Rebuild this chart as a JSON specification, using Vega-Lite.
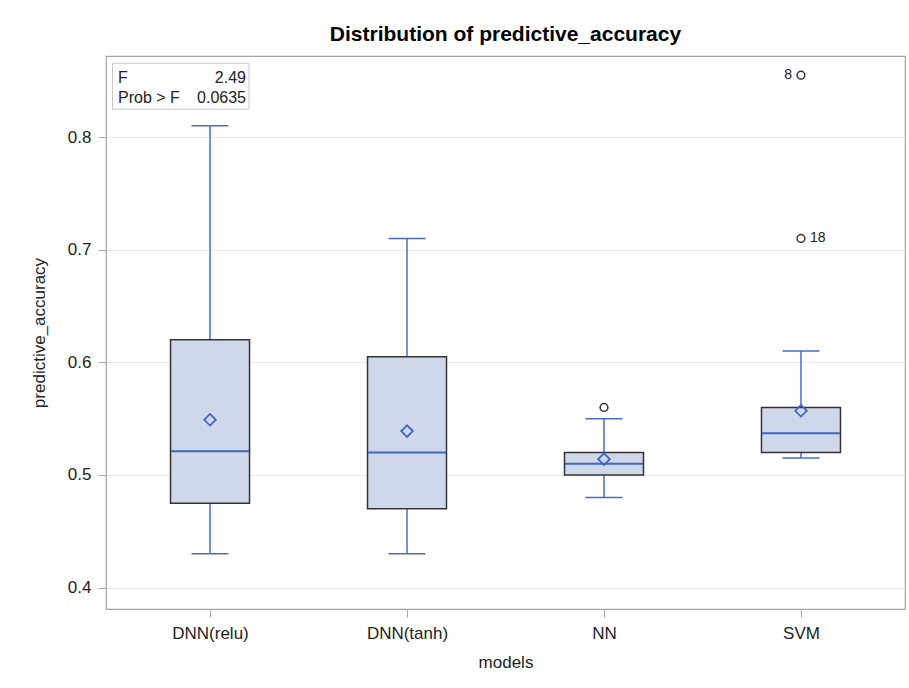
{
  "$schema": "https://vega.github.io/schema/vega-lite/v6.json",
  "width": 799,
  "height": 553,
  "autosize": {"type": "none"},
  "padding": {"left": 106, "top": 56, "right": 4, "bottom": 79},
  "background": "white",
  "title": {"text": "Distribution of predictive_accuracy", "font": "Liberation Sans", "fontSize": 21, "fontWeight": "bold", "color": "#000000", "anchor": "middle", "offset": 11},
  "config": {
    "view": {"stroke": "#a4a4ae", "strokeWidth": 1.2},
    "axis": {"labelFont": "Liberation Sans", "titleFont": "Liberation Sans", "labelFontSize": 17, "titleFontSize": 17, "labelColor": "#222222", "titleColor": "#222222", "titleFontWeight": "normal", "tickColor": "#a4a4ae", "domain": false}
  },
  "datasets": {
    "stats": [
      {"model": "DNN(relu)", "low": 0.43, "q1": 0.475, "median": 0.521, "q3": 0.62, "high": 0.81, "mean": 0.549},
      {"model": "DNN(tanh)", "low": 0.43, "q1": 0.47, "median": 0.52, "q3": 0.605, "high": 0.71, "mean": 0.539},
      {"model": "NN", "low": 0.48, "q1": 0.50, "median": 0.51, "q3": 0.52, "high": 0.55, "mean": 0.514},
      {"model": "SVM", "low": 0.515, "q1": 0.52, "median": 0.537, "q3": 0.56, "high": 0.61, "mean": 0.557}
    ],
    "outliers": [
      {"model": "NN", "value": 0.56, "label": ""},
      {"model": "SVM", "value": 0.71, "label": "18"},
      {"model": "SVM", "value": 0.855, "label": "8"}
    ]
  },
  "encoding": {
    "x": {"field": "model", "type": "nominal", "title": "models",
      "scale": {"type": "point", "domain": ["DNN(relu)", "DNN(tanh)", "NN", "SVM"], "padding": 0.528},
      "axis": {"labelAngle": 0, "tickSize": 8, "labelPadding": 8, "titlePadding": 13, "grid": false}}
  },
  "layer": [
    {
      "data": {"name": "stats"},
      "mark": {"type": "rule", "color": "#4a6cc8", "strokeWidth": 1.5},
      "encoding": {
        "y": {"field": "low", "type": "quantitative", "title": "predictive_accuracy",
          "scale": {"domain": [0.381, 0.872], "nice": false, "zero": false},
          "axis": {"values": [0.4, 0.5, 0.6, 0.7, 0.8], "format": ".1f", "tickSize": 8, "labelPadding": 7, "titlePadding": 19, "grid": true, "gridColor": "#ece8ec", "gridWidth": 1}},
        "y2": {"field": "high"}
      }
    },
    {
      "data": {"name": "stats"},
      "mark": {"type": "tick", "color": "#4a6cc8", "size": 37, "thickness": 1.5, "opacity": 1},
      "encoding": {"y": {"field": "low", "type": "quantitative"}}
    },
    {
      "data": {"name": "stats"},
      "mark": {"type": "tick", "color": "#4a6cc8", "size": 37, "thickness": 1.5, "opacity": 1},
      "encoding": {"y": {"field": "high", "type": "quantitative"}}
    },
    {
      "data": {"name": "stats"},
      "mark": {"type": "bar", "width": 79, "fill": "#cfd8ea", "stroke": "#333333", "strokeWidth": 1.5},
      "encoding": {"y": {"field": "q1", "type": "quantitative"}, "y2": {"field": "q3"}}
    },
    {
      "data": {"name": "stats"},
      "mark": {"type": "tick", "color": "#3f64c4", "size": 78, "thickness": 2, "opacity": 1},
      "encoding": {"y": {"field": "median", "type": "quantitative"}}
    },
    {
      "data": {"name": "stats"},
      "mark": {"type": "point", "shape": "diamond", "size": 135, "filled": false, "stroke": "#3f64c4", "strokeWidth": 1.8, "opacity": 1},
      "encoding": {"y": {"field": "mean", "type": "quantitative"}}
    },
    {
      "data": {"name": "outliers"},
      "mark": {"type": "point", "shape": "circle", "size": 60, "filled": false, "stroke": "#333333", "strokeWidth": 1.5, "opacity": 1},
      "encoding": {"y": {"field": "value", "type": "quantitative"}}
    },
    {
      "data": {"name": "outliers"},
      "transform": [{"filter": "datum.label == '18'"}],
      "mark": {"type": "text", "align": "left", "baseline": "middle", "dx": 9, "font": "Liberation Sans", "fontSize": 14, "color": "#222222"},
      "encoding": {"y": {"field": "value", "type": "quantitative"}, "text": {"field": "label"}}
    },
    {
      "data": {"name": "outliers"},
      "transform": [{"filter": "datum.label == '8'"}],
      "mark": {"type": "text", "align": "right", "baseline": "middle", "dx": -9, "font": "Liberation Sans", "fontSize": 14, "color": "#222222"},
      "encoding": {"y": {"field": "value", "type": "quantitative"}, "text": {"field": "label"}}
    },
    {
      "data": {"values": [{}]},
      "mark": {"type": "rect", "fill": "white", "stroke": "#c8c8c8", "strokeWidth": 1, "xOffset": -97.5, "x2Offset": 39},
      "encoding": {"x": {"datum": "DNN(relu)"}, "x2": {"datum": "DNN(relu)"}, "y": {"datum": 0.8656}, "y2": {"datum": 0.8248}}
    },
    {
      "data": {"values": [{}]},
      "mark": {"type": "text", "align": "left", "baseline": "alphabetic", "dx": -92, "font": "Liberation Sans", "fontSize": 16, "color": "#222222", "text": "F"},
      "encoding": {"x": {"datum": "DNN(relu)"}, "y": {"datum": 0.8479}}
    },
    {
      "data": {"values": [{}]},
      "mark": {"type": "text", "align": "right", "baseline": "alphabetic", "dx": 36, "font": "Liberation Sans", "fontSize": 16, "color": "#222222", "text": "2.49"},
      "encoding": {"x": {"datum": "DNN(relu)"}, "y": {"datum": 0.8479}}
    },
    {
      "data": {"values": [{}]},
      "mark": {"type": "text", "align": "left", "baseline": "alphabetic", "dx": -92, "font": "Liberation Sans", "fontSize": 16, "color": "#222222", "text": "Prob > F"},
      "encoding": {"x": {"datum": "DNN(relu)"}, "y": {"datum": 0.8302}}
    },
    {
      "data": {"values": [{}]},
      "mark": {"type": "text", "align": "right", "baseline": "alphabetic", "dx": 36, "font": "Liberation Sans", "fontSize": 16, "color": "#222222", "text": "0.0635"},
      "encoding": {"x": {"datum": "DNN(relu)"}, "y": {"datum": 0.8302}}
    }
  ]
}
